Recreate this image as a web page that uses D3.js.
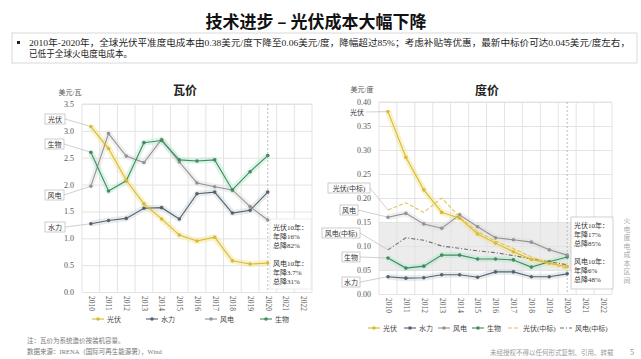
<!DOCTYPE html>
<html>
<head>
<meta charset="utf-8">
<script src="https://cdn.jsdelivr.net/npm/d3@7"></script>
<style>
  body { margin: 0; background: #fff; }
  svg { display: block; font-family: "Liberation Serif", "Noto Sans CJK SC", serif; }
</style>
</head>
<body>
<svg id="chart" width="641" height="359"></svg>
<script>
// categories
const years = ['2010', '2011', '2012', '2013', '2014', '2015', '2016', '2017', '2018', '2019', '2020', '2021', '2022'];
const dataYears = years.slice(0, 11);

// 瓦价 (美元/瓦)
const wattSolar = [3.08, 2.67, 2.08, 1.64, 1.36, 1.06, 0.95, 1.02, 0.58, 0.52, 0.54];
const wattHydro = [1.27, 1.33, 1.37, 1.56, 1.57, 1.36, 1.83, 1.86, 1.47, 1.52, 1.86];
const wattWind = [1.97, 2.95, 2.53, 2.41, 2.84, 2.42, 2.03, 1.96, 1.90, 1.59, 1.34];
const wattBio = [2.60, 1.88, 2.07, 2.78, 2.82, 2.46, 2.44, 2.46, 1.90, 2.24, 2.54];
const wattTicks = [0, 0.5, 1.0, 1.5, 2.0, 2.5, 3.0, 3.5];

// 度价 (美元/度)
const kwhSolar = [0.38, 0.285, 0.217, 0.17, 0.158, 0.125, 0.106, 0.088, 0.072, 0.064, 0.057];
const kwhHydro = [0.036, 0.033, 0.034, 0.040, 0.040, 0.035, 0.046, 0.046, 0.036, 0.036, 0.042];
const kwhWind = [0.160, 0.168, 0.146, 0.137, 0.165, 0.140, 0.117, 0.113, 0.108, 0.092, 0.081];
const kwhBio = [0.075, 0.054, 0.058, 0.081, 0.081, 0.073, 0.073, 0.071, 0.056, 0.067, 0.077];
const kwhSolarBid = [0.175, 0.19, 0.17, 0.20, 0.16, 0.13, 0.11, 0.095, 0.077, 0.065, 0.052];
const kwhWindBid = [0.092, 0.117, 0.112, 0.100, 0.095, 0.090, 0.086, 0.080, 0.073, 0.067, 0.061];
const kwhTicks = [0, 0.05, 0.10, 0.15, 0.20, 0.25, 0.30, 0.35, 0.40];
const fossilBand = [0.05, 0.15];

const colors = {
  solar: '#d6bb35', hydro: '#566270', wind: '#939393', bio: '#3e8c5f',
  solarBid: '#e3c45c', windBid: '#6f6f6f'
};
const halos = { solar: '#f3e38f', hydro: '#c9d4dc', wind: '#dedede', bio: '#b5e6cf' };

const svg = d3.select('#chart');

// title
svg.append('text')
  .attr('x', 316).attr('y', 28)
  .attr('text-anchor', 'middle')
  .style('font-family', '"Noto Sans CJK SC"')
  .style('font-weight', 'bold')
  .style('font-size', '17px')
  .attr('fill', '#111')
  .text('技术进步 – 光伏成本大幅下降');

// summary box
svg.append('rect')
  .attr('x', 12).attr('y', 33).attr('width', 625).attr('height', 30)
  .attr('fill', '#fff').attr('stroke', '#d9d9d9');
svg.append('rect').attr('x', 17).attr('y', 41).attr('width', 3).attr('height', 3).attr('fill', '#222');
svg.append('text')
  .attr('x', 29).attr('y', 46)
  .attr('textLength', 601).attr('lengthAdjust', 'spacingAndGlyphs')
  .style('font-size', '8.6px').attr('fill', '#222')
  .text('2010年-2020年，全球光伏平准度电成本由0.38美元/度下降至0.06美元/度，降幅超过85%；考虑补贴等优惠，最新中标价可达0.045美元/度左右，');
svg.append('text')
  .attr('x', 29).attr('y', 57)
  .style('font-size', '8.6px').attr('fill', '#222')
  .text('已低于全球火电度电成本。');

function drawPanel(p) {
  const g = svg.append('g');
  const x = d3.scalePoint().domain(years).range(p.xRange).padding(0.5);
  const y = d3.scaleLinear().domain(p.yDomain).range(p.yRange);
  const step = x.step();
  const [x0, x1] = p.xRange;
  const [yb, yt] = p.yRange;

  // shaded band (right panel)
  if (p.band) {
    g.append('rect')
      .attr('x', x0).attr('width', x1 - x0)
      .attr('y', y(p.band[1])).attr('height', y(p.band[0]) - y(p.band[1]))
      .attr('fill', '#ececec');
  }

  // horizontal grid
  g.append('g')
    .attr('transform', `translate(${x0},0)`)
    .call(d3.axisLeft(y).tickValues(p.ticks).tickSize(-(x1 - x0)).tickFormat(''))
    .call(a => a.select('.domain').remove())
    .call(a => a.selectAll('line').attr('stroke', '#e3e3e3'));

  // vertical grid on category boundaries
  g.append('g').selectAll('line')
    .data(years)
    .join('line')
    .attr('x1', d => x(d) + step / 2).attr('x2', d => x(d) + step / 2)
    .attr('y1', yt).attr('y2', yb)
    .attr('stroke', '#e3e3e3');
  g.append('line').attr('x1', x0).attr('x2', x0).attr('y1', yt).attr('y2', yb).attr('stroke', '#e3e3e3');
  g.append('line').attr('x1', x0).attr('x2', x1).attr('y1', yt).attr('y2', yt).attr('stroke', '#e3e3e3');

  // dashed marker at 2020
  g.append('line')
    .attr('x1', x('2020')).attr('x2', x('2020'))
    .attr('y1', yt).attr('y2', yb)
    .attr('stroke', '#bdbdbd').attr('stroke-dasharray', '2,2');

  // y tick labels
  g.append('g')
    .attr('transform', `translate(${x0 - 5},0)`)
    .call(d3.axisLeft(y).tickValues(p.ticks).tickSize(0).tickFormat(d3.format(p.fmt)))
    .call(a => a.select('.domain').remove())
    .call(a => a.selectAll('text').attr('fill', '#555').style('font-size', '8px')
      .style('font-family', '"Liberation Serif", serif'));

  // x tick labels (rotated)
  g.append('g')
    .attr('transform', `translate(0,${yb})`)
    .call(d3.axisBottom(x).tickSize(0))
    .call(a => a.select('.domain').remove())
    .call(a => a.selectAll('text')
      .attr('transform', 'rotate(90)')
      .attr('x', 4).attr('y', 0).attr('dy', '0.35em')
      .attr('text-anchor', 'start')
      .attr('fill', '#555').style('font-size', '7.5px')
      .style('font-family', '"Liberation Serif", serif'));

  // axis unit and panel title
  g.append('text').attr('x', p.unitX).attr('y', p.unitY)
    .attr('text-anchor', 'middle').style('font-size', '7px').attr('fill', '#555')
    .text(p.unit);
  g.append('text').attr('x', p.titleX).attr('y', 95)
    .attr('text-anchor', 'middle')
    .style('font-family', '"Noto Sans CJK SC"').style('font-weight', 'bold')
    .style('font-size', '12px').attr('fill', '#222')
    .text(p.title);

  const line = d3.line().x((d, i) => x(dataYears[i])).y(d => y(d));

  // halos
  p.series.filter(s => s.halo).forEach(s => {
    g.append('path').datum(s.values)
      .attr('d', line).attr('fill', 'none')
      .attr('stroke', s.halo).attr('stroke-width', 6)
      .attr('stroke-linejoin', 'round').attr('opacity', 0.45);
  });

  // label boxes + leader lines
  p.series.forEach(s => {
    const lb = s.label;
    g.append('line')
      .attr('x1', lb.x + lb.w).attr('y1', lb.y)
      .attr('x2', x(dataYears[0])).attr('y2', y(s.values[0]))
      .attr('stroke', '#bbb').attr('stroke-width', 0.7);
    if (lb.box) {
      g.append('rect')
        .attr('x', lb.x).attr('y', lb.y - 5).attr('width', lb.w).attr('height', 10)
        .attr('fill', '#fff').attr('stroke', '#aaa').attr('stroke-width', 0.6);
    }
    g.append('text')
      .attr('x', lb.x + lb.w / 2).attr('y', lb.y + 2.5)
      .attr('text-anchor', 'middle').style('font-size', '7px').attr('fill', '#333')
      .text(s.name);
  });

  // lines
  p.series.forEach(s => {
    g.append('path').datum(s.values)
      .attr('d', line).attr('fill', 'none')
      .attr('stroke', s.color).attr('stroke-width', s.width || 1.1)
      .attr('stroke-dasharray', s.dash || null);
    if (s.marker) {
      g.append('g').selectAll('circle')
        .data(s.values)
        .join('circle')
        .attr('cx', (d, i) => x(dataYears[i])).attr('cy', d => y(d))
        .attr('r', 1.8).attr('fill', s.color);
    }
  });

  // annotation box
  const nb = p.note;
  g.append('rect')
    .attr('x', nb.x).attr('y', nb.y).attr('width', nb.w).attr('height', nb.h)
    .attr('fill', '#fff').attr('stroke', nb.stroke).attr('stroke-width', 0.7);
  nb.lines.forEach((t, i) => {
    g.append('text')
      .attr('x', nb.x + 3).attr('y', nb.y + 11 + i * 9 + (i >= 3 ? 9 : 0))
      .style('font-size', '7px').attr('fill', '#333')
      .text(t);
  });

  // legend
  p.legend.forEach((s, i) => {
    const lx = p.legendX[i];
    const ly = p.legendY;
    g.append('line').attr('x1', lx).attr('x2', lx + 12).attr('y1', ly).attr('y2', ly)
      .attr('stroke', s.color).attr('stroke-width', 1.1).attr('stroke-dasharray', s.dash || null);
    if (s.marker) g.append('circle').attr('cx', lx + 6).attr('cy', ly).attr('r', 1.8).attr('fill', s.color);
    g.append('text').attr('x', lx + 15).attr('y', ly + 2.5)
      .style('font-size', '7px').attr('fill', '#444').text(s.name);
  });
}

const leftSeries = [
  { name: '水力', values: wattHydro, color: colors.hydro, halo: halos.hydro, marker: true, label: { x: 45, y: 227, w: 20, box: true } },
  { name: '风电', values: wattWind, color: colors.wind, halo: halos.wind, marker: true, label: { x: 45, y: 195, w: 19, box: true } },
  { name: '生物', values: wattBio, color: colors.bio, halo: halos.bio, marker: true, label: { x: 45, y: 144, w: 19, box: true } },
  { name: '光伏', values: wattSolar, color: colors.solar, halo: halos.solar, marker: true, label: { x: 45, y: 119, w: 20, box: true } }
];

drawPanel({
  xRange: [82, 312], yDomain: [0, 3.5], yRange: [292, 104],
  ticks: wattTicks, fmt: '.1f',
  unit: '美元/瓦', unitX: 70, unitY: 95,
  title: '瓦价', titleX: 185,
  series: leftSeries,
  note: { x: 270, y: 219, w: 41, h: 70, stroke: '#e6e6e6',
    lines: ['光伏10年：', '年降16%', '总降82%', '风电10年：', '年降3.7%', '总降31%'] },
  legend: [leftSeries[3], leftSeries[0], leftSeries[1], leftSeries[2]],
  legendX: [92, 146, 205, 260], legendY: 319
});

const rightSeries = [
  { name: '水力', values: kwhHydro, color: colors.hydro, halo: halos.hydro, marker: true, label: { x: 342, y: 282, w: 18, box: true } },
  { name: '风电(中标)', values: kwhWindBid, color: colors.windBid, dash: '4,2,1,2', label: { x: 322, y: 233, w: 38, box: true } },
  { name: '生物', values: kwhBio, color: colors.bio, halo: halos.bio, marker: true, label: { x: 342, y: 257, w: 18, box: true } },
  { name: '风电', values: kwhWind, color: colors.wind, halo: halos.wind, marker: true, label: { x: 340, y: 210, w: 18, box: true } },
  { name: '光伏(中标)', values: kwhSolarBid, color: colors.solarBid, dash: '4,2', label: { x: 328, y: 188, w: 42, box: true } },
  { name: '光伏', values: kwhSolar, color: colors.solar, halo: halos.solar, marker: true, label: { x: 348, y: 112, w: 18, box: false } }
];

drawPanel({
  xRange: [379, 612], yDomain: [0, 0.4], yRange: [294, 102],
  ticks: kwhTicks, fmt: '.2f',
  unit: '美元/度', unitX: 362, unitY: 92,
  title: '度价', titleX: 487,
  band: fossilBand,
  series: rightSeries,
  note: { x: 571, y: 217, w: 42, h: 72, stroke: '#bdbdbd',
    lines: ['光伏10年：', '年降17%', '总降85%', '风电10年：', '年降6%', '总降48%'] },
  legend: [rightSeries[5], rightSeries[0], rightSeries[3], rightSeries[2], rightSeries[4], rightSeries[1]],
  legendX: [368, 404, 438, 472, 508, 560], legendY: 328
});

// vertical side note
const sideNote = '火电度电成本区间'.split('');
svg.append('g').selectAll('text')
  .data(sideNote)
  .join('text')
  .attr('x', 627).attr('y', (d, i) => 223 + i * 8.5)
  .attr('text-anchor', 'middle')
  .style('font-size', '7px').attr('fill', '#aaa')
  .text(d => d);

// footnotes
svg.append('text').attr('x', 27).attr('y', 343)
  .style('font-size', '6.5px').attr('fill', '#777')
  .text('注：瓦价为系统造价按装机容量。');
svg.append('text').attr('x', 27).attr('y', 354)
  .style('font-size', '6.5px').attr('fill', '#777')
  .text('数据来源：IRENA（国际可再生能源署），Wind');
svg.append('text').attr('x', 490).attr('y', 355)
  .style('font-size', '6.5px').attr('fill', '#999')
  .text('未经授权不得以任何形式复制、引用、转载');
svg.append('text').attr('x', 630).attr('y', 355)
  .style('font-size', '8px').attr('fill', '#888')
  .text('5');
</script>
</body>
</html>
